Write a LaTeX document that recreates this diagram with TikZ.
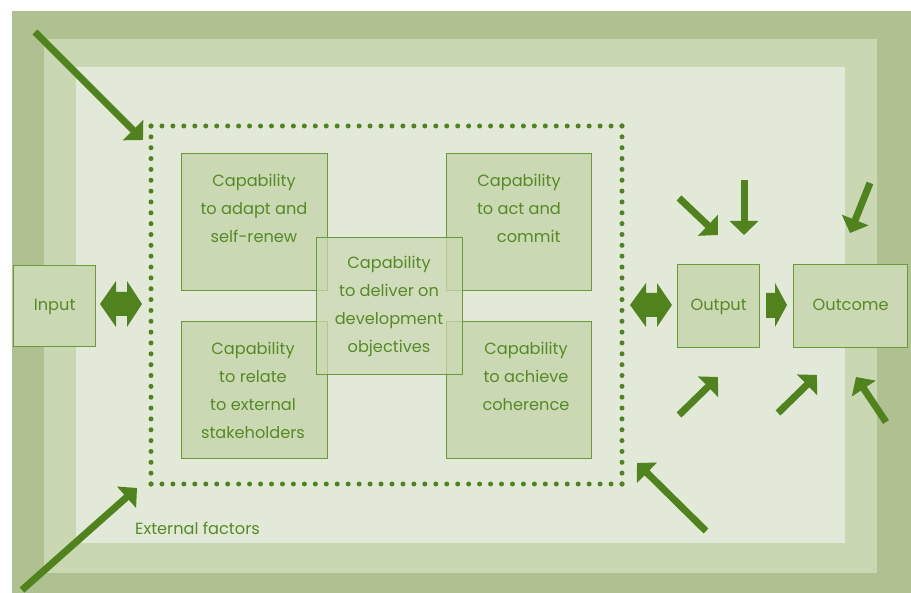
\documentclass[tikz,border=0pt]{standalone}
\usepackage{fontspec}
\setmainfont{Poppins}
\usetikzlibrary{arrows.meta}
\definecolor{bandA}{HTML}{B0C191}
\definecolor{bandB}{HTML}{C9D7B3}
\definecolor{bandC}{HTML}{E2E9D8}
\definecolor{boxfill}{HTML}{CAD8B3}
\definecolor{boxline}{HTML}{6A9A38}
\definecolor{arrowgreen}{HTML}{50821E}
\definecolor{textgreen}{HTML}{558A26}
\begin{document}
\begin{tikzpicture}[x=1pt,y=-1pt,
  capbox/.style={draw=boxline, line width=1.3pt, fill=boxfill, inner sep=0pt, anchor=north west},
  lbl/.style={text=textgreen, font=\fontsize{16.2}{28}\selectfont, align=center, inner sep=0pt},
  bigarrow/.style={draw=arrowgreen, line width=7pt, -{Triangle[width=28pt,length=14pt]}},
  blockarrow/.style={fill=arrowgreen, draw=none},
  dotline/.style={draw=arrowgreen, line width=5pt, line cap=round}]
\useasboundingbox (0,0) rectangle (911,593);
% background bands
\fill[white] (0,0) rectangle (911,593);
\fill[bandA] (12,11) rectangle (911,593);
\fill[bandB] (44,39) rectangle (877,573);
\fill[bandC] (76,67) rectangle (845,543);
% dotted frame
\coordinate (d1) at (151,126);
\coordinate (d2) at (622,126);
\coordinate (d3) at (622,484);
\coordinate (d4) at (151,484);
\draw[dotline, dash pattern=on 0pt off 10.953pt] (d1) -- (d2);
\draw[dotline, dash pattern=on 0pt off 10.848pt] (d2) -- (d3);
\draw[dotline, dash pattern=on 0pt off 10.953pt] (d3) -- (d4);
\draw[dotline, dash pattern=on 0pt off 10.848pt] (d4) -- (d1);
% capability boxes
\node[capbox, minimum width=146pt, minimum height=137pt] (tl) at (181,153) {};
\node[capbox, minimum width=145pt, minimum height=137pt] (tr) at (446,153) {};
\node[capbox, minimum width=146pt, minimum height=137pt] (bl) at (181,321) {};
\node[capbox, minimum width=145pt, minimum height=137pt] (br) at (446,321) {};
\node[capbox, fill opacity=0.75, minimum width=146pt, minimum height=137pt] (ctr) at (316,237) {};
\node[lbl] (tltext) at (254,208) {Capability\\to adapt and\\self-renew};
\node[lbl] (trtext) at (519,208) {Capability\\to act and\\\hspace*{1.2em}commit};
\node[lbl] (bltext) at (253,390) {Capability\\to relate\\to external\\stakeholders};
\node[lbl] (brtext) at (526,376) {Capability\\to achieve\\coherence};
\node[lbl] (ctrtext) at (389,306) {Capability\\to deliver on\\development\\objectives};
% input / output / outcome
\node[capbox, minimum width=82pt, minimum height=81pt] (input) at (13,265) {};
\node[lbl] at ([yshift=-1pt]input.center) {Input};
\node[capbox, minimum width=82pt, minimum height=83pt] (output) at (677,264) {};
\node[lbl] at ([yshift=-1pt]output.center) {Output};
\node[capbox, minimum width=114pt, minimum height=83pt] (outcome) at (793,264) {};
\node[lbl] at ([yshift=1pt]outcome.center) {Outcome};
\node[lbl, anchor=west] (ext) at (135,528) {External factors};
% block double arrows
\fill[blockarrow] (100,304) -- (116,281) -- (116,292) -- (127,292) -- (127,281) -- (142,304)
  -- (127,327) -- (127,316) -- (116,316) -- (116,327) -- cycle;
\fill[blockarrow] (630,305) -- (646,283) -- (646,293) -- (657,293) -- (657,283) -- (672,305)
  -- (657,327) -- (657,317) -- (646,317) -- (646,327) -- cycle;
\fill[blockarrow] (766,293) -- (775,293) -- (775,283) -- (787,305) -- (775,327) -- (775,318) -- (766,318) -- cycle;
% external factor arrows
\coordinate (a1s) at (35,32);   \coordinate (a1e) at (143,140);
\coordinate (a2s) at (22,590);  \coordinate (a2e) at (137,488);
\coordinate (a3s) at (706,531); \coordinate (a3e) at (637,463);
\coordinate (a4s) at (679,198); \coordinate (a4e) at (718,235);
\coordinate (a5s) at (744,180); \coordinate (a5e) at (744,235);
\coordinate (a6s) at (870,183); \coordinate (a6e) at (850,233);
\coordinate (a7s) at (679,415); \coordinate (a7e) at (718,377);
\coordinate (a8s) at (778,413); \coordinate (a8e) at (817,375);
\coordinate (a9s) at (886,422); \coordinate (a9e) at (856,377);
\foreach \i in {1,...,9} \draw[bigarrow] (a\i s) -- (a\i e);
\end{tikzpicture}
\end{document}
